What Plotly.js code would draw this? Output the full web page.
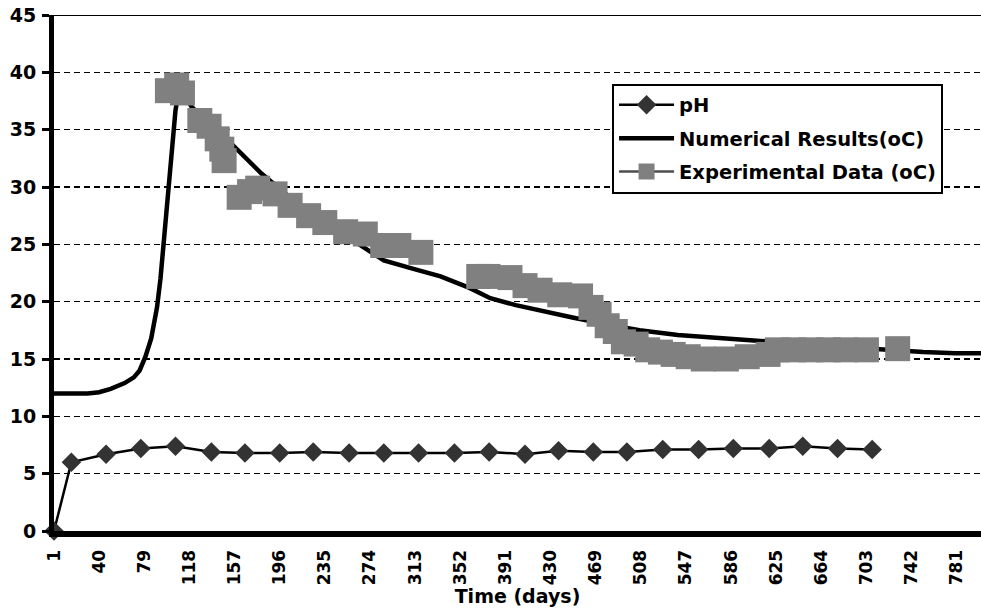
<!DOCTYPE html>
<html>
<head>
<meta charset="utf-8">
<script src="https://cdn.plot.ly/plotly-3.0.1.min.js"></script>
<style>html,body{margin:0;padding:0;background:#fff;}</style>
</head>
<body>
<div id="chart" style="width:981px;height:612px;"></div>
<script>
// ---- data ----
const xTickDays = [1,40,79,118,157,196,235,274,313,352,391,430,469,508,547,586,625,664,703,742,781];
const xTickLabels = ["1","40","79","118","157","196","235","274","313","352","391","430","469","508","547","586","625","664","703","742","781"];

const phDays   = [1, 16, 46, 76, 106, 137, 166, 196, 225, 256, 286, 316, 347, 377, 408, 437, 467, 496, 527, 558, 588, 619, 648, 678, 708];
const phValues = [0, 6.0, 6.7, 7.2, 7.4, 6.9, 6.8, 6.8, 6.9, 6.8, 6.8, 6.8, 6.8, 6.9, 6.7, 7.0, 6.9, 6.9, 7.1, 7.1, 7.2, 7.2, 7.4, 7.2, 7.1];

const numDays = [1, 30, 40, 50, 62, 70, 75, 80, 85, 90, 93, 97, 100, 103, 106, 109, 112, 120, 135, 154, 180, 200, 230, 260, 286, 310, 335, 360, 378, 400, 425, 450, 480, 507, 540, 570, 594, 622, 660, 690, 717, 752, 780, 802];
const numTemp = [12.0, 12.0, 12.1, 12.4, 12.9, 13.4, 14.0, 15.2, 16.8, 19.5, 22.0, 26.3, 29.7, 33.3, 36.7, 38.4, 38.2, 37.0, 35.4, 33.8, 31.2, 29.5, 27.3, 25.3, 23.6, 22.9, 22.2, 21.2, 20.3, 19.7, 19.1, 18.6, 18.0, 17.5, 17.1, 16.9, 16.7, 16.5, 16.2, 16.0, 15.8, 15.6, 15.5, 15.5];

const expDays = [99, 107, 112, 127, 135, 142, 146, 148, 161, 170, 177, 192, 205, 221, 235, 253, 270, 285, 299, 318,
                 368, 376, 395, 408, 421, 438, 456, 465, 472, 479, 486, 493, 504, 514, 525, 536, 549, 562, 582, 600, 618, 626, 640, 655, 670, 685, 703, 730];
const expTemp = [38.4, 38.9, 38.2, 35.8, 35.3, 34.2, 33.3, 32.3, 29.1, 29.6, 29.9, 29.4, 28.4, 27.5, 26.9, 26.1, 25.9, 24.9, 24.9, 24.3,
                 22.2, 22.2, 22.1, 21.4, 21.0, 20.6, 20.5, 19.5, 18.9, 17.9, 17.4, 16.5, 16.3, 15.8, 15.6, 15.4, 15.2, 15.0, 15.0, 15.2, 15.4, 15.8, 15.8, 15.8, 15.8, 15.8, 15.8, 15.9];

const seriesNames = ["pH", "Numerical Results(oC)", "Experimental Data (oC)"];

// ---- chart ----
const FONT = "DejaVu Sans, Verdana, sans-serif";

const traces = [
  {
    x: phDays, y: phValues, name: seriesNames[0], type: "scatter", mode: "lines+markers",
    line: {color: "#000000", width: 2.5},
    marker: {symbol: "diamond", size: 15, color: "#333333"},
    cliponaxis: false, legendgroup: "a"
  },
  {
    x: numDays, y: numTemp, name: seriesNames[1], type: "scatter", mode: "lines",
    line: {color: "#000000", width: 4.5},
    legendgroup: "b"
  },
  {
    // experimental points: squares only, the connecting line is not visible in the chart
    x: expDays, y: expTemp, name: seriesNames[2], type: "scatter", mode: "markers",
    marker: {symbol: "square", size: 25, color: "#808080", line: {width: 0}},
    showlegend: false, legendgroup: "c"
  },
  {
    // legend key for the experimental series (line with square marker)
    x: [null], y: [null], name: seriesNames[2], type: "scatter", mode: "lines+markers",
    line: {color: "#4d4d4d", width: 2.5},
    marker: {symbol: "square", size: 18, color: "#808080", line: {width: 0}},
    legendgroup: "c"
  }
];

const layout = {
  width: 981, height: 612,
  margin: {l: 54, r: 0, t: 15, b: 81},
  paper_bgcolor: "#ffffff", plot_bgcolor: "#ffffff",
  font: {family: FONT, size: 15, color: "#000000", weight: "bold"},
  showlegend: true,
  legend: {
    x: 0.602, y: 0.867, xanchor: "left", yanchor: "top",
    bgcolor: "#ffffff", bordercolor: "#000000", borderwidth: 2,
    font: {family: FONT, size: 19.5, color: "#000000", weight: "bold"},
    tracegroupgap: 5, itemwidth: 55
  },
  xaxis: {
    range: [1, 802], type: "linear",
    tickmode: "array", tickvals: xTickDays, ticktext: xTickLabels,
    tickangle: -90,
    tickfont: {family: FONT, size: 17, color: "#000000", weight: "bold"},
    ticklabelstandoff: 6,
    showline: true, linecolor: "#000000", linewidth: 6,
    ticks: "", showgrid: false, zeroline: false,
    title: {text: "Time (days)", font: {family: FONT, size: 19, color: "#000000", weight: "bold"}, standoff: 2}
  },
  yaxis: {
    range: [0, 45], dtick: 5, tick0: 0,
    tickfont: {family: FONT, size: 19, color: "#000000", weight: "bold"},
    ticklabelstandoff: 2,
    showline: true, linecolor: "#000000", linewidth: 5,
    ticks: "outside", ticklen: 7, tickwidth: 3, tickcolor: "#000000",
    showgrid: true, gridcolor: "#000000", gridwidth: 1.5, griddash: "6px,4px",
    zeroline: false
  },
  shapes: [
    {type: "line", xref: "paper", yref: "y", x0: 0, x1: 1, y0: 45, y1: 45,
     line: {color: "#000000", width: 2}}
  ]
};

Plotly.newPlot("chart", traces, layout, {displayModeBar: false, staticPlot: true});
</script>
</body>
</html>
